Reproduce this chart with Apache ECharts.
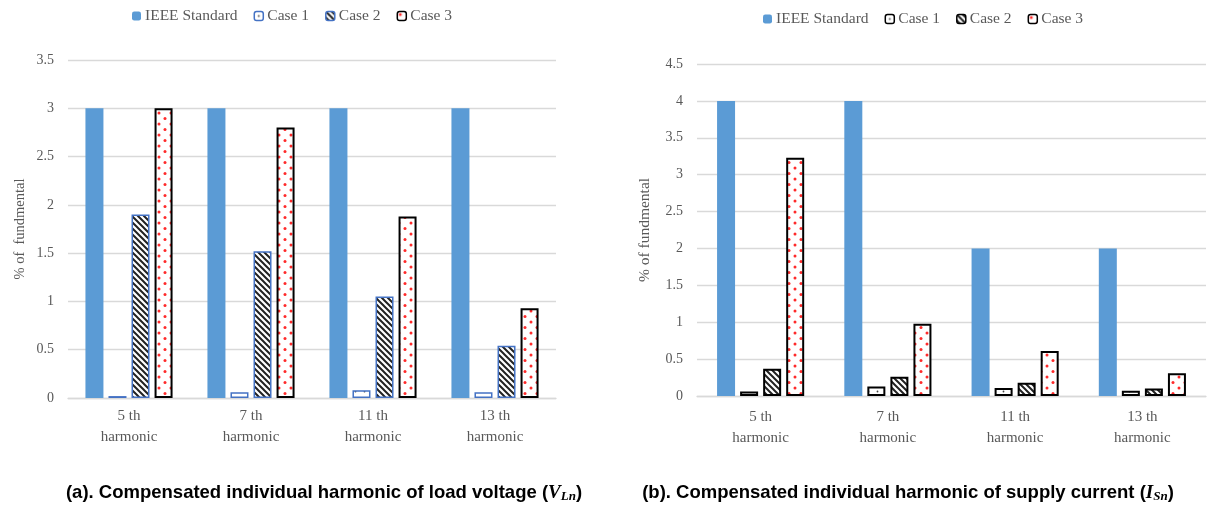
<!DOCTYPE html>
<html>
<head>
<meta charset="utf-8">
<script src="https://cdn.jsdelivr.net/npm/echarts@6/dist/echarts.min.js"></script>
<style>
html,body{margin:0;padding:0;background:#fff;}
#c{width:1207px;height:506px;}
</style>
</head>
<body>
<div id="c"></div>
<script>
// ---- data ----
var categories = ['5 th\nharmonic', '7 th\nharmonic', '11 th\nharmonic', '13 th\nharmonic'];
var seriesNames = ['IEEE Standard', 'Case 1', 'Case 2', 'Case 3'];
// (a) load voltage
var vIEEE = [3, 3, 3, 3];
var vCase1 = [0.02, 0.06, 0.08, 0.06];
var vCase2 = [1.9, 1.52, 1.05, 0.54];
var vCase3 = [3.0, 2.8, 1.88, 0.93];
// (b) supply current
var iIEEE = [4, 4, 2, 2];
var iCase1 = [0.06, 0.13, 0.11, 0.07];
var iCase2 = [0.37, 0.26, 0.18, 0.1];
var iCase3 = [3.23, 0.98, 0.61, 0.31];
var yTicksA = {min: 0, max: 3.5, interval: 0.5};
var yTicksB = {min: 0, max: 4.5, interval: 0.5};

// ---- patterns ----
function mk(w, h, draw) {
  var c = document.createElement('canvas');
  c.width = w; c.height = h;
  var g = c.getContext('2d');
  g.fillStyle = '#fff'; g.fillRect(0, 0, w, h);
  draw(g);
  return {image: c, repeat: 'repeat'};
}
var patDots = mk(9, 9, function (g) {
  g.fillStyle = '#444';
  g.beginPath(); g.arc(4.5, 4.5, 0.9, 0, Math.PI * 2); g.fill();
});
var patHatch = mk(6, 6, function (g) {
  g.strokeStyle = '#222'; g.lineWidth = 2;
  g.beginPath();
  g.moveTo(-1, -1); g.lineTo(7, 7);
  g.moveTo(-1, 5); g.lineTo(1, 7);
  g.moveTo(5, -1); g.lineTo(7, 1);
  g.stroke();
});
var patRed = mk(12, 11, function (g) {
  g.fillStyle = '#ff2a2a';
  g.beginPath(); g.arc(3, 3, 1.5, 0, Math.PI * 2); g.fill();
  g.beginPath(); g.arc(9, 8.5, 1.5, 0, Math.PI * 2); g.fill();
});

var blue = '#5B9BD5';
var edgeBlue = '#4472C4';
var txt = '#595959';
var grid = '#D9D9D9';
var serif = 'Liberation Serif';

function styles(edge) {
  return [
    {color: blue},
    {color: patDots, borderColor: edge, borderWidth: edge === '#000' ? 2 : 1.5},
    {color: patHatch, borderColor: edge, borderWidth: edge === '#000' ? 2 : 1.5},
    {color: patRed, borderColor: '#000', borderWidth: 2}
  ];
}
var stA = styles(edgeBlue);
var stB = styles('#000');

function bars(idx, vals, st) {
  return vals.map(function (v, k) {
    return {
      name: seriesNames[k], type: 'bar', xAxisIndex: idx, yAxisIndex: idx,
      data: v, barWidth: 18, barGap: '28%', itemStyle: st[k], emphasis: {disabled: true}
    };
  });
}

function xAx(idx, margin) {
  return {
    type: 'category', gridIndex: idx, data: categories,
    axisTick: {show: false},
    axisLine: {lineStyle: {color: grid, width: 1.3}},
    axisLabel: {color: txt, fontFamily: serif, fontSize: 15, lineHeight: 21, margin: margin}
  };
}
function yAx(idx, t, name, gap, fs) {
  return {
    type: 'value', gridIndex: idx, min: t.min, max: t.max, interval: t.interval,
    name: name, nameLocation: 'middle', nameGap: gap, nameRotate: 90,
    nameTextStyle: {color: txt, fontFamily: serif, fontSize: fs},
    axisLine: {show: false}, axisTick: {show: false},
    splitLine: {lineStyle: {color: grid, width: 1.3}},
    axisLabel: {color: txt, fontFamily: serif, fontSize: 14, margin: 14}
  };
}

function legendData(st) {
  return seriesNames.map(function (n, k) {
    return {name: n, itemStyle: Object.assign({}, st[k], {borderWidth: st[k].borderWidth ? 1.5 : 0})};
  });
}

function caption(x, label, v, s) {
  return {type: 'text', x: x, y: 493, style: {
    text: '{a|' + label + ' (}{v|' + v + '}{s|' + s + '}{a|)}',
    align: 'center', verticalAlign: 'middle',
    rich: {
      a: {fontFamily: 'Liberation Sans', fontWeight: 'bold', fontSize: 18.5, fill: '#000'},
      v: {fontFamily: serif, fontStyle: 'italic', fontWeight: 'bold', fontSize: 19, fill: '#000'},
      s: {fontFamily: serif, fontStyle: 'italic', fontWeight: 'bold', fontSize: 13, fill: '#000', verticalAlign: 'bottom', padding: [7, 0, 0, 0]}
    }
  }};
}

var chart = echarts.init(document.getElementById('c'));
chart.setOption({
  animation: false,
  grid: [
    {left: 68, right: 651, top: 60, bottom: 108},
    {left: 697, right: 1, top: 64, bottom: 110}
  ],
  legend: [
    {left: 132, top: 8, padding: 0, itemWidth: 9, itemHeight: 9, itemGap: 16,
     data: legendData(stA), textStyle: {color: txt, fontFamily: serif, fontSize: 15.5, padding: [0, 0, 0, -1]}},
    {left: 763, top: 11, padding: 0, itemWidth: 9, itemHeight: 9, itemGap: 16,
     data: legendData(stB), textStyle: {color: txt, fontFamily: serif, fontSize: 15.5, padding: [0, 0, 0, -1]}}
  ],
  xAxis: [xAx(0, 8), xAx(1, 11)],
  yAxis: [yAx(0, yTicksA, '% of  fundmental', 40, 14.5), yAx(1, yTicksB, '% of fundmental', 44, 15.5)],
  series: bars(0, [vIEEE, vCase1, vCase2, vCase3], stA).concat(bars(1, [iIEEE, iCase1, iCase2, iCase3], stB)),
  graphic: [
    caption(324, '(a). Compensated individual harmonic of load voltage', 'V', 'Ln'),
    caption(908, '(b). Compensated individual harmonic of supply current', 'I', 'Sn')
  ]
});
</script>
</body>
</html>
